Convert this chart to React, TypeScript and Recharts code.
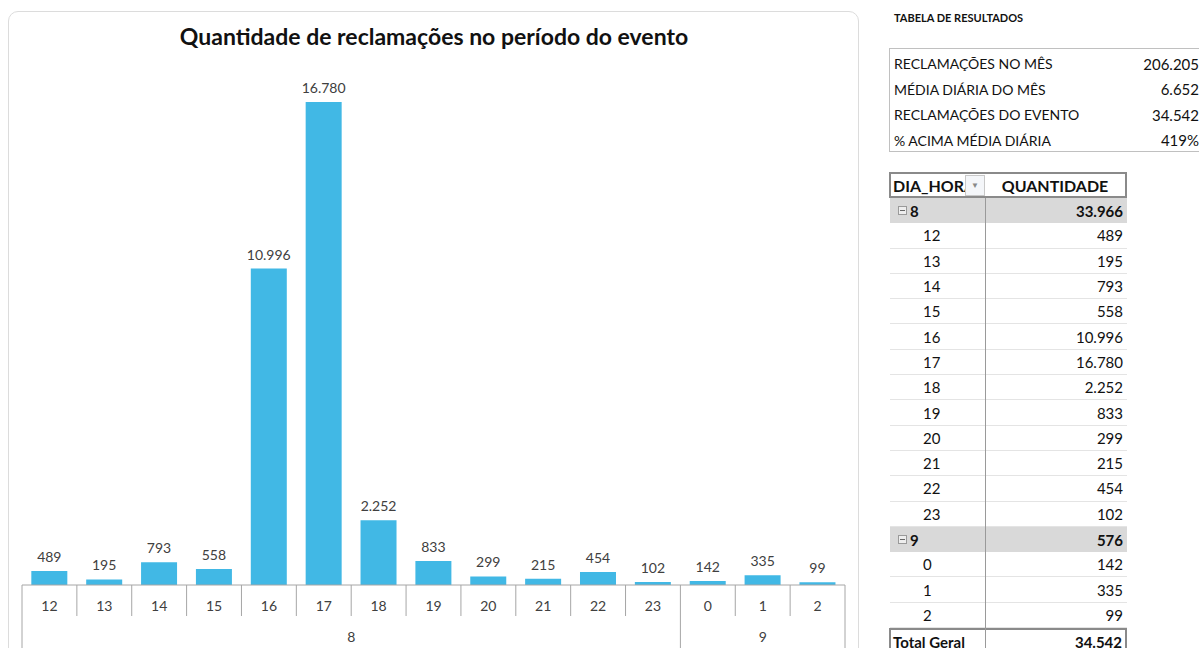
import { Bar, BarChart, LabelList, XAxis, YAxis } from "recharts";

const hours = ["12", "13", "14", "15", "16", "17", "18", "19", "20", "21", "22", "23", "0", "1", "2"];
const days = ["8", "8", "8", "8", "8", "8", "8", "8", "8", "8", "8", "8", "9", "9", "9"];
const quantities = [489, 195, 793, 558, 10996, 16780, 2252, 833, 299, 215, 454, 102, 142, 335, 99];

const summaryLabels = [
  "RECLAMAÇÕES NO MÊS",
  "MÉDIA DIÁRIA DO MÊS",
  "RECLAMAÇÕES DO EVENTO",
  "% ACIMA MÉDIA DIÁRIA",
];
const summaryValues = ["206.205", "6.652", "34.542", "419%"];

const data = hours.map((h, i) => ({ hour: h, day: days[i], qtd: quantities[i] }));

const FONT = "Lato, 'Open Sans', sans-serif";
const BAR = "#41b8e5";
const GRID = "#a6a6a6";
const TEXT = "#404040";

function fmt(n: number) {
  return String(n).replace(/\B(?=(\d{3})+(?!\d))/g, ".");
}

function HourTick(props: any) {
  const { x, y, payload, index } = props;
  const half = payload?.offset || 27.43;
  const day = days[index];
  const first = index === 0 || days[index - 1] !== day;
  const last = index === hours.length - 1;
  const count = days.filter((d) => d === day).length;
  return (
    <g>
      <line x1={x - half} x2={x - half} y1={y} y2={first ? y + 70 : y + 31} stroke={GRID} />
      {last && <line x1={x + half} x2={x + half} y1={y} y2={y + 70} stroke={GRID} />}
      <text x={x} y={y + 20} textAnchor="middle" dominantBaseline="central" fontSize={14} fill={TEXT} fontFamily={FONT}>
        {payload.value}
      </text>
      {first && (
        <text
          x={x - half + count * half}
          y={y + 51}
          textAnchor="middle"
          dominantBaseline="central"
          fontSize={14}
          fill={TEXT}
          fontFamily={FONT}
        >
          {day}
        </text>
      )}
    </g>
  );
}

const ROW_H = 25.3;

function PivotRow({ label, value, kind }: { label: string; value: string; kind: "group" | "item" }) {
  const group = kind === "group";
  return (
    <div
      style={{
        height: ROW_H,
        display: "flex",
        alignItems: "center",
        background: group ? "#d9d9d9" : "transparent",
        borderBottom: group ? "none" : "1px solid #e4e4e4",
        boxSizing: "border-box",
        fontWeight: group ? 700 : 400,
        fontSize: 15,
      }}
    >
      <div style={{ width: 96, paddingLeft: group ? 8 : 33, boxSizing: "border-box", display: "flex", alignItems: "center" }}>
        {group && (
          <span
            style={{
              display: "inline-block",
              width: 7,
              height: 7,
              border: "1px solid #9a9a9a",
              background: "#eee",
              marginRight: 3,
              position: "relative",
            }}
          >
            <span style={{ position: "absolute", left: 1, right: 1, top: 3, height: 1, background: "#666" }} />
          </span>
        )}
        {label}
      </div>
      <div style={{ flex: 1, textAlign: "right", paddingRight: 4 }}>{value}</div>
    </div>
  );
}

export default function App() {
  const groupDays = days.filter((d, i) => days.indexOf(d) === i);
  const total = quantities.reduce((a, b) => a + b, 0);

  return (
    <div style={{ position: "fixed", inset: 0, overflow: "hidden", background: "#fff", fontFamily: FONT, color: "#111" }}>
      <div
        style={{
          position: "absolute",
          left: 8,
          top: 11,
          width: 851,
          height: 700,
          border: "1px solid #dcdcdc",
          borderRadius: 10,
          boxSizing: "border-box",
        }}
      />
      <div
        style={{
          position: "absolute",
          left: 8,
          width: 852,
          top: 22,
          textAlign: "center",
          fontSize: 23,
          fontWeight: 700,
          color: "#111",
        }}
      >
        Quantidade de reclamações no período do evento
      </div>
      <div style={{ position: "absolute", left: 0, top: 0 }}>
        <BarChart
          width={860}
          height={648}
          data={data}
          margin={{ top: 67, right: 15, bottom: 0, left: 22 }}
          barCategoryGap="17%"
        >
          <XAxis
            dataKey="hour"
            height={63}
            tickSize={0}
            tickMargin={0}
            interval={0}
            axisLine={{ stroke: GRID }}
            tickLine={false}
            tick={<HourTick />}
          />
          <YAxis hide domain={[0, 18000]} />
          <Bar dataKey="qtd" fill={BAR} isAnimationActive={false}>
            <LabelList
              dataKey="qtd"
              position="top"
              offset={9}
              formatter={(v: any) => fmt(Number(v))}
              style={{ fontSize: 14, fill: TEXT, fontFamily: FONT }}
            />
          </Bar>
        </BarChart>
      </div>

      <div style={{ position: "absolute", left: 894, top: 11, fontSize: 11, fontWeight: 700 }}>TABELA DE RESULTADOS</div>

      <div
        style={{
          position: "absolute",
          left: 889,
          top: 48,
          width: 330,
          height: 104,
          border: "1px solid #c0c0c0",
          boxSizing: "border-box",
          paddingTop: 2,
        }}
      >
        {summaryLabels.map((l, i) => (
          <div key={l} style={{ height: 25.5, display: "flex", alignItems: "center", fontSize: 14 }}>
            <div style={{ paddingLeft: 4, width: 200 }}>{l}</div>
            <div style={{ width: 105, textAlign: "right", fontSize: 15 }}>{summaryValues[i]}</div>
          </div>
        ))}
      </div>

      <div style={{ position: "absolute", left: 889, top: 172, width: 238 }}>
        <div
          style={{
            height: 26,
            border: "2px solid #8a8a8a",
            boxSizing: "border-box",
            display: "flex",
            alignItems: "center",
            fontWeight: 700,
            fontSize: 16,
          }}
        >
          <div style={{ width: 94, display: "flex", alignItems: "center", paddingLeft: 2, boxSizing: "border-box" }}>
            <span style={{ width: 72, overflow: "hidden", whiteSpace: "nowrap" }}>DIA_HORA</span>
            <span
              style={{
                width: 18,
                height: 19,
                border: "1px solid #c8c8c8",
                background: "#f4f6f9",
                fontSize: 8,
                color: "#888",
                display: "flex",
                alignItems: "center",
                justifyContent: "center",
              }}
            >
              ▼
            </span>
          </div>
          <div style={{ flex: 1, textAlign: "center" }}>QUANTIDADE</div>
        </div>
        <div style={{ position: "relative", borderLeft: "1px solid transparent" }}>
          <div style={{ position: "absolute", left: 95, top: 0, bottom: -30, width: 1, background: "#9a9a9a" }} />
          {groupDays.map((g) => {
            const idx = hours.map((_, i) => i).filter((i) => days[i] === g);
            const sum = idx.reduce((a, i) => a + quantities[i], 0);
            return (
              <div key={g}>
                <PivotRow label={g} value={fmt(sum)} kind="group" />
                {idx.map((i) => (
                  <PivotRow key={i} label={hours[i]} value={fmt(quantities[i])} kind="item" />
                ))}
              </div>
            );
          })}
          <div
            style={{
              height: 26,
              borderTop: "2px solid #8a8a8a",
              borderLeft: "2px solid #8a8a8a",
              borderRight: "2px solid #8a8a8a",
              boxSizing: "border-box",
              display: "flex",
              alignItems: "center",
              fontWeight: 700,
              fontSize: 15,
              marginLeft: -1,
            }}
          >
            <div style={{ width: 95, paddingLeft: 2 }}>Total Geral</div>
            <div style={{ flex: 1, textAlign: "right", paddingRight: 3 }}>{fmt(total)}</div>
          </div>
        </div>
      </div>
    </div>
  );
}
